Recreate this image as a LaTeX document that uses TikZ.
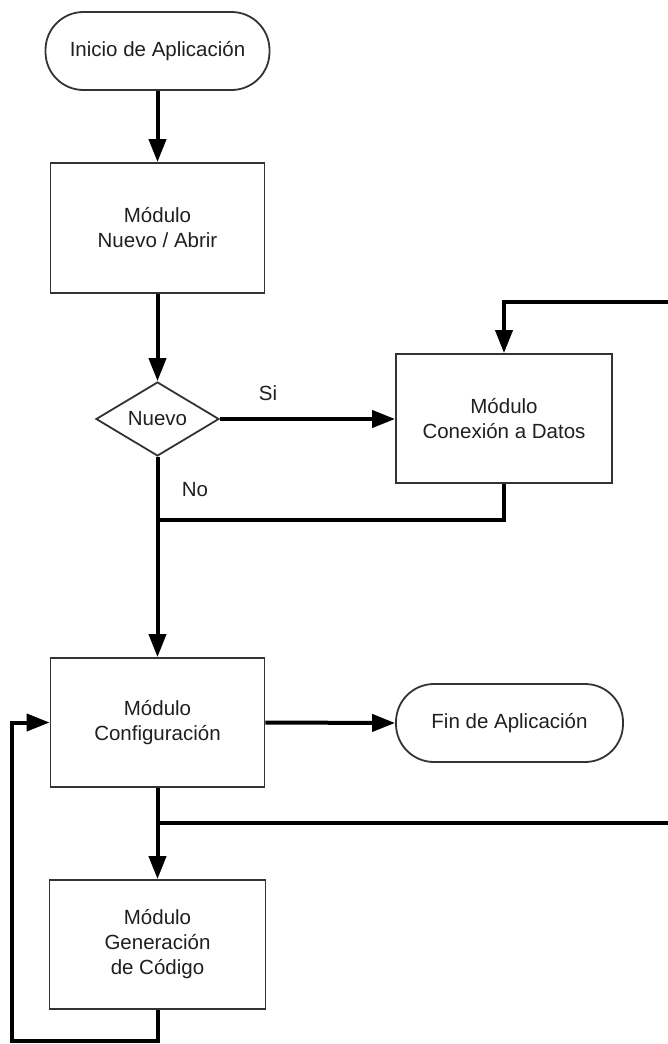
\documentclass[tikz,border=0pt]{standalone}
\usepackage{fontspec}
\setmainfont{Liberation Sans}
\usetikzlibrary{shapes.geometric,arrows.meta}
\begin{document}
\begin{tikzpicture}[x=1pt,y=-1pt,
  txt/.style={font=\fontsize{20.5}{25}\selectfont, text=black!88, align=center},
  boxnode/.style={txt, draw=black!80, line width=1.8pt, rectangle, inner sep=0pt, minimum width=215pt, minimum height=129pt},
  termnode/.style={txt, draw=black!80, line width=1.8pt, rectangle, rounded corners=38pt, inner sep=0pt, minimum height=78pt},
  decnode/.style={txt, draw=black!80, line width=1.8pt, diamond, aspect=1.66, inner sep=0pt, minimum width=123pt, minimum height=74pt},
  conn/.style={line width=4pt, black},
  arr/.style={conn, -{Triangle[length=23pt,width=17pt]}},
  lbl/.style={txt}
]
\useasboundingbox (0,0) rectangle (668,1044);

\node[termnode, minimum width=224pt] (inicio) at (157.5,51) {Inicio de Aplicación};
\node[boxnode, minimum width=214pt, minimum height=130pt] (nuevo) at (157.5,228) {Módulo\\Nuevo / Abrir};
\node[decnode] (dec) at (157.5,419) {Nuevo};
\node[boxnode, minimum width=216pt] (conex) at (504,418.5) {Módulo\\Conexión a Datos};
\node[boxnode, minimum width=214pt] (config) at (157.5,722.5) {Módulo\\Configuración};
\node[termnode, minimum width=227pt] (fin) at (509.5,723) {Fin de Aplicación};
\node[boxnode, minimum width=216pt] (gen) at (157.5,944.5) {Módulo\\Generación\\de Código};

\node[lbl] (si) at (268,393) {Si};
\node[lbl] (no) at (195,490) {No};

\coordinate (rtop) at (668,302);
\coordinate (rbot) at (668,823);
\coordinate (j1) at (157.5,520);
\coordinate (j2) at (157.5,823);
\coordinate (bl) at (12,1041);

\draw[arr] (inicio.south) -- (nuevo.north);
\draw[arr] (nuevo.south) -- (dec.north);
\draw[arr] (dec.east) -- (dec.east -| conex.west);
\draw[arr] (rtop) -- (rtop -| conex.north) -- (conex.north);
\draw[conn] (conex.south) |- (j1);
\draw[arr] (dec.south) -- (config.north);
\draw[arr] (config.east) -- (fin.west);
\draw[arr] (config.south) -- (gen.north);
\draw[conn] (j2) -- (rbot);
\draw[arr] (gen.south) |- (bl) |- (config.west);
\end{tikzpicture}
\end{document}
